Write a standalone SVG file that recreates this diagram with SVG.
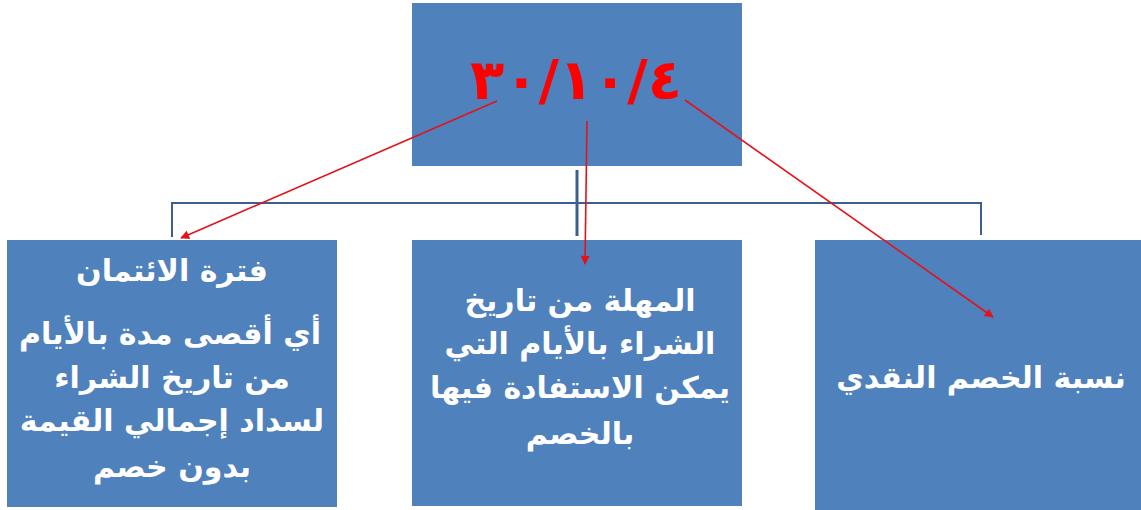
<svg xmlns="http://www.w3.org/2000/svg" width="1141" height="510" viewBox="0 0 1141 510">
<defs>
<style>
.box{fill:#4f81bd;}
.t{font-family:"DejaVu Sans","Noto Sans",sans-serif;font-weight:bold;fill:#ffffff;text-anchor:middle;font-size:30px;}
.tree{stroke:#3b5f8f;stroke-width:2;fill:none;}
.arr{stroke:#e3131b;stroke-width:1.6;fill:none;marker-end:url(#ah);}
</style>
<marker id="ah" viewBox="0 0 10 10" refX="9" refY="5" markerWidth="11" markerHeight="9" orient="auto" markerUnits="userSpaceOnUse">
<path d="M0,0 L10,5 L0,10 z" fill="#e3131b"/>
</marker>
</defs>
<rect width="1141" height="510" fill="#ffffff"/>
<g id="node-top">
<rect class="box" x="412" y="3" width="330" height="163"/>
<text x="576" y="99" font-family="DejaVu Sans,sans-serif" font-weight="bold" font-size="56" fill="#ff0000" text-anchor="middle" direction="ltr" unicode-bidi="bidi-override" letter-spacing="17">٣٠/١٠/٤</text>
</g>
<g id="node-left">
<rect class="box" x="7" y="240" width="330" height="267"/>
<text class="t" x="172" y="281" direction="rtl">فترة الائتمان</text>
<text class="t" x="170" y="344" direction="rtl">أي أقصى مدة بالأيام</text>
<text class="t" x="172" y="388" direction="rtl">من تاريخ الشراء</text>
<text class="t" x="172" y="431" direction="rtl">لسداد إجمالي القيمة</text>
<text class="t" x="172" y="477" direction="rtl">بدون خصم</text>
</g>
<g id="node-middle">
<rect class="box" x="412" y="240" width="330" height="266"/>
<text class="t" x="580" y="311" direction="rtl">المهلة من تاريخ</text>
<text class="t" x="580" y="354" direction="rtl">الشراء بالأيام التي</text>
<text class="t" x="580" y="398" direction="rtl">يمكن الاستفادة فيها</text>
<text class="t" x="580" y="444" direction="rtl">بالخصم</text>
</g>
<g id="node-right">
<rect class="box" x="815" y="240" width="326" height="270"/>
<text class="t" x="981" y="388" direction="rtl">نسبة الخصم النقدي</text>
</g>
<g id="connectors">
<path class="tree" d="M172,237 V203 H981 V235"/>
<path d="M577,170 V236" stroke="#3b5f8f" stroke-width="3"/>
<path class="arr" d="M497,101 L181,238"/>
<path class="arr" d="M587,121 L585,264"/>
<path class="arr" d="M685,100 L993,317"/>
</g>
</svg>
